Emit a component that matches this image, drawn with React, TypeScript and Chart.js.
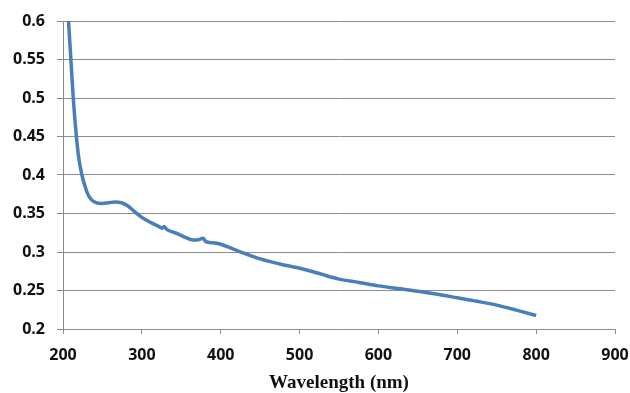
import React, { useEffect, useRef } from "react";
import { Chart, registerables } from "chart.js";

Chart.register(...registerables);

const wavelengths = [
  204, 206, 207, 210, 213, 217, 220, 224, 228, 232, 236, 242, 249, 258, 266, 274, 282,
  290, 300, 310, 320, 326, 328, 332, 345, 355, 365, 372, 378, 381, 390, 400, 424, 450,
  475, 500, 525, 550, 575, 600, 625, 650, 675, 700, 725, 750, 775, 800,
];
const absorbance = [
  0.64, 0.615, 0.6, 0.55, 0.5, 0.45, 0.422, 0.4, 0.385, 0.374, 0.368, 0.364, 0.363,
  0.364, 0.365, 0.364, 0.36, 0.353, 0.345, 0.339, 0.334, 0.331, 0.333, 0.329, 0.324,
  0.319, 0.3156, 0.316, 0.318, 0.3135, 0.312, 0.31, 0.3004, 0.291, 0.2845, 0.2788,
  0.272, 0.2648, 0.2605, 0.256, 0.2525, 0.249, 0.245, 0.2405, 0.236, 0.231, 0.2245,
  0.2175,
];
const xTitle = "Wavelength (nm)";
const yMin = 0.2;
const yMax = 0.6;
const yStep = 0.05;
const xMin = 200;
const xMax = 900;
const xStep = 100;

export default function App() {
  const ref = useRef<HTMLCanvasElement | null>(null);
  useEffect(() => {
    if (!ref.current) return;
    const grid = "#8c8c8c";
    const chart = new Chart(ref.current, {
      type: "line",
      data: {
        datasets: [
          {
            data: wavelengths.map((x, i) => ({ x, y: absorbance[i] })),
            borderColor: "#4A7EBB",
            borderWidth: 3.5,
            pointRadius: 0,
            cubicInterpolationMode: "monotone",
            fill: false,
            clip: 0,
          },
        ],
      },
      options: {
        animation: false,
        responsive: false,
        devicePixelRatio: 1,
        plugins: { legend: { display: false }, title: { display: false }, tooltip: { enabled: false } },
        layout: { padding: { top: 21, right: 15, bottom: 0, left: 0 } },
        scales: {
          x: {
            type: "linear",
            min: xMin,
            max: xMax,
            ticks: {
              stepSize: xStep,
              color: "#111",
              padding: 12,
              font: { family: "'Open Sans'", size: 16, weight: "bold" },
              maxRotation: 0,
            },
            grid: { drawOnChartArea: false, drawTicks: true, tickLength: 5, color: grid },
            border: { display: true, color: grid },
            title: {
              display: true,
              text: xTitle,
              color: "#111",
              font: { family: "'Liberation Serif'", size: 19, weight: "bold", lineHeight: 1 },
              padding: { top: 0, bottom: 0 },
            },
            afterFit: (s: any) => {
              s.height = 64;
              s.paddingLeft = 0;
              s.paddingRight = 0;
            },
          },
          y: {
            type: "linear",
            min: yMin,
            max: yMax,
            ticks: {
              stepSize: yStep,
              color: "#111",
              padding: 12,
              font: { family: "'Open Sans'", size: 16, weight: "bold" },
              callback: (v: any) => String(+Number(v).toFixed(2)),
            },
            grid: { color: grid, tickLength: 6, drawTicks: true },
            border: { display: true, color: grid },
            afterFit: (s: any) => {
              s.width = 63;
              s.paddingTop = 0;
              s.paddingBottom = 0;
            },
          },
        },
      },
    } as any);
    return () => chart.destroy();
  }, []);
  return (
    <div style={{ position: "absolute", left: 0, top: 0, width: 630, height: 393, background: "#fff" }}>
      <canvas ref={ref} width={630} height={393} style={{ display: "block" }} />
    </div>
  );
}
